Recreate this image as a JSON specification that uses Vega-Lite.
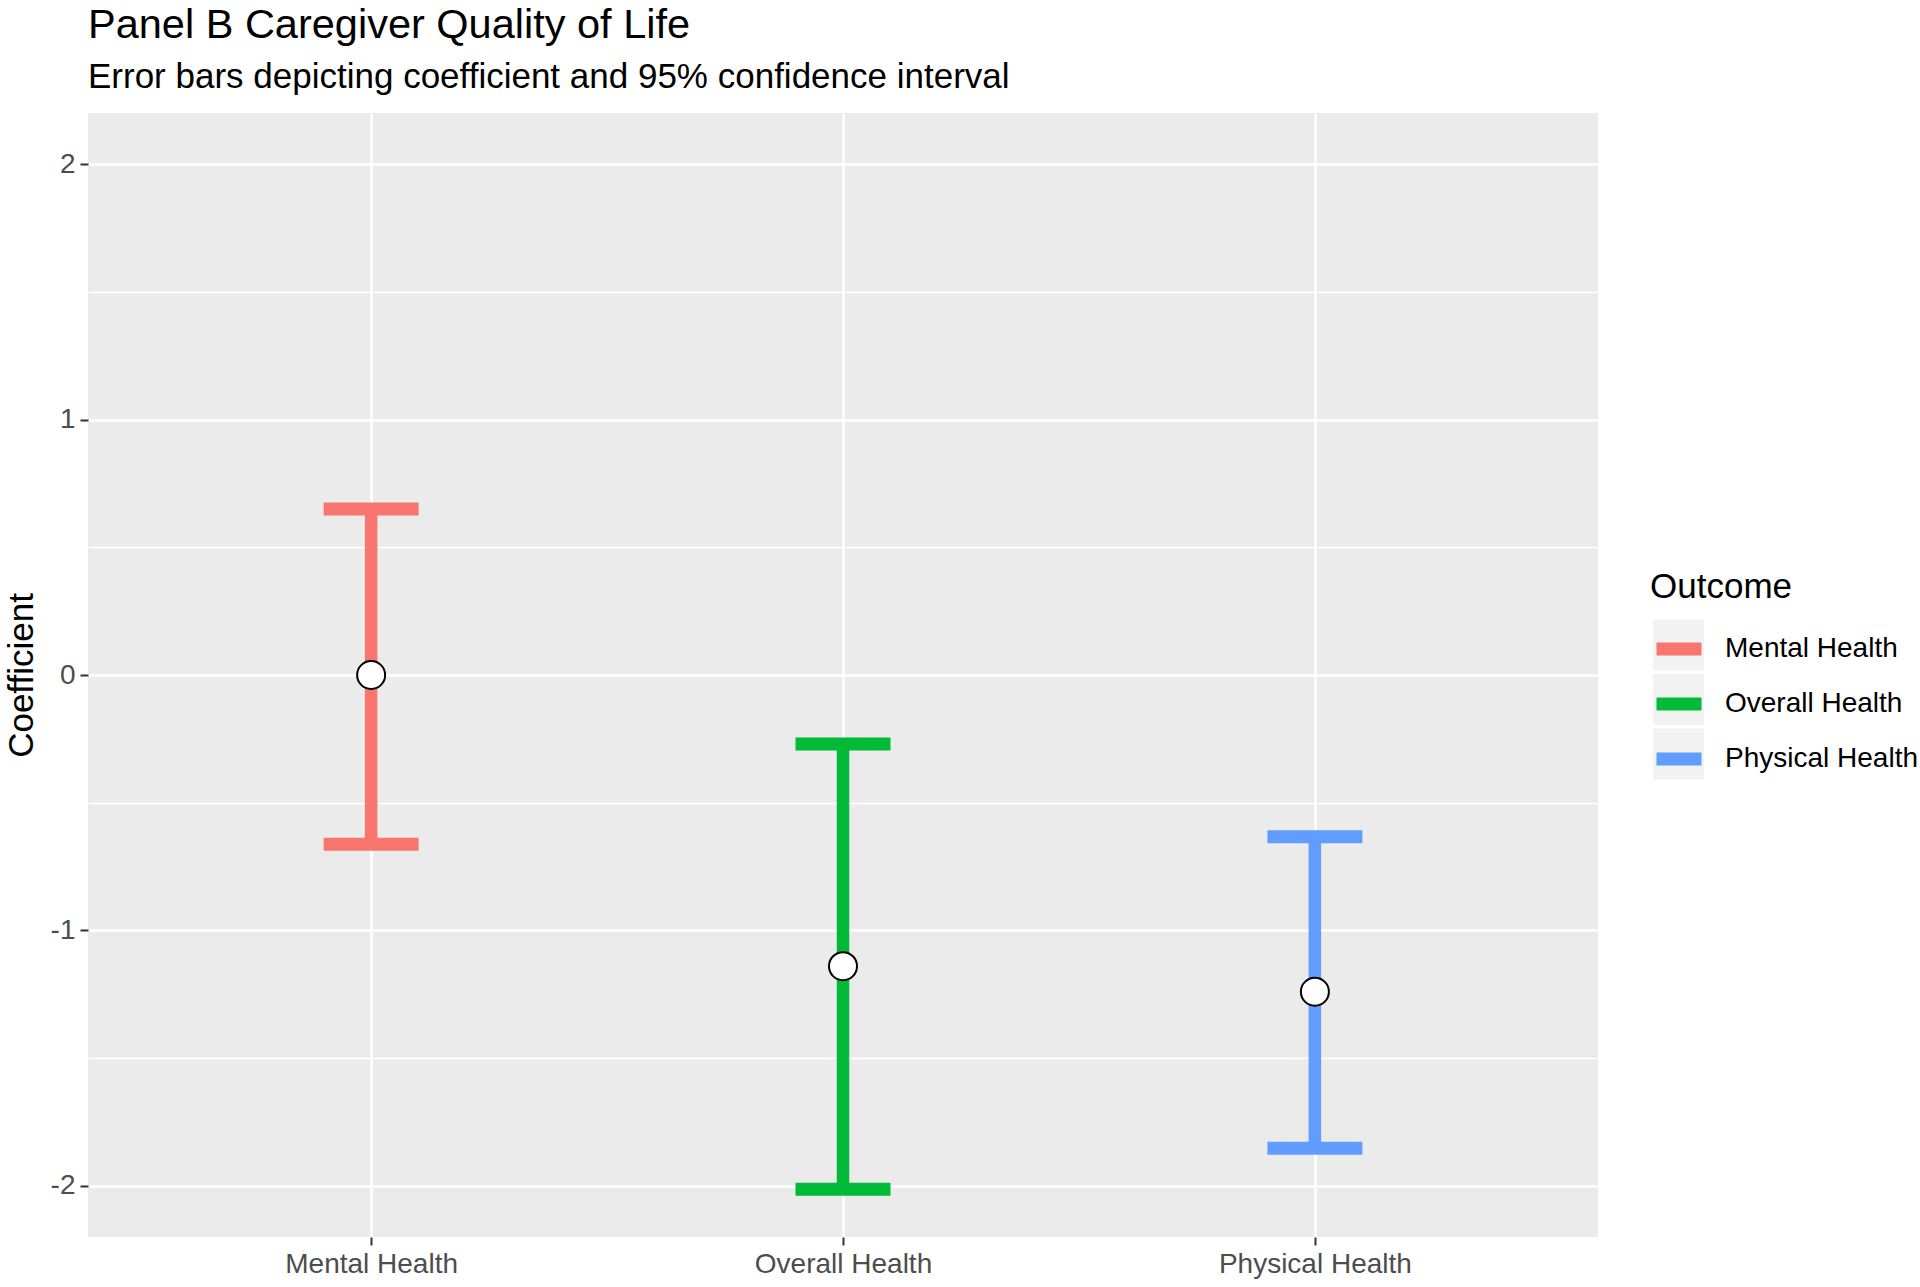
{
  "$schema": "https://vega.github.io/schema/vega-lite/v6.json",
  "autosize": "none",
  "width": 1510,
  "height": 1124,
  "padding": {"left": 88, "top": 113, "right": 322, "bottom": 50},
  "background": "white",
  "title": {
    "text": "Panel B Caregiver Quality of Life",
    "subtitle": "Error bars depicting coefficient and 95% confidence interval",
    "anchor": "start",
    "frame": "group",
    "font": "Liberation Sans",
    "fontSize": 41.5,
    "fontWeight": "normal",
    "color": "black",
    "subtitleFont": "Liberation Sans",
    "subtitleFontSize": 35,
    "subtitleColor": "black",
    "subtitlePadding": 13.5,
    "offset": 18.5
  },
  "data": {
    "values": [
      {"outcome": "Mental Health", "key": "Mental", "coef": 0.0, "lo": -0.663, "hi": 0.65},
      {"outcome": "Overall Health", "key": "Overall", "coef": -1.14, "lo": -2.013, "hi": -0.27},
      {"outcome": "Physical Health", "key": "Physical", "coef": -1.24, "lo": -1.853, "hi": -0.633}
    ]
  },
  "encoding": {
    "x": {
      "field": "outcome",
      "type": "nominal",
      "scale": {"type": "point", "padding": 0.6, "domain": ["Mental Health", "Overall Health", "Physical Health"]},
      "axis": {
        "title": null,
        "labelAngle": 0,
        "labelFont": "Liberation Sans",
        "labelFontSize": 28,
        "labelColor": "#4D4D4D",
        "labelPadding": 5,
        "labelLimit": 0,
        "tickColor": "#333333",
        "tickSize": 8,
        "tickWidth": 2,
        "domain": false,
        "grid": true,
        "gridColor": "white",
        "gridWidth": 2.7
      }
    }
  },
  "layer": [
    {
      "mark": {"type": "point", "shape": "square", "filled": true, "color": "#F2F2F2", "size": 4, "opacity": 1},
      "encoding": {
        "y": {"field": "coef", "type": "quantitative", "scale": {"domain": [-2.2, 2.2], "nice": false, "zero": false}},
        "shape": {
          "field": "key",
          "type": "nominal",
          "scale": {"domain": ["Mental", "Overall", "Physical"], "range": ["square", "square", "square"]},
          "legend": {
            "title": "Outcome",
            "titleOpacity": 0,
            "orient": "none",
            "legendX": 1565,
            "legendY": 456.5,
            "zindex": 1,
            "padding": 0,
            "titleFont": "Liberation Sans",
            "titleFontSize": 35,
            "titleFontWeight": "normal",
            "titlePadding": 15,
            "labelExpr": "''",
            "labelFont": "Liberation Sans",
            "labelFontSize": 28,
            "labelOffset": 0,
            "symbolType": "square",
            "symbolSize": 2601,
            "symbolFillColor": "#F2F2F2",
            "symbolStrokeWidth": 0,
            "symbolOpacity": 1,
            "rowPadding": 3.5
          }
        }
      }
    },
    {
      "mark": {"type": "rule", "strokeWidth": 12.5, "strokeCap": "butt"},
      "encoding": {
        "y": {
          "field": "lo",
          "type": "quantitative",
          "axis": {
            "title": "Coefficient",
            "titleFont": "Liberation Sans",
            "titleFontSize": 35,
            "titleFontWeight": "normal",
            "titleColor": "black",
            "titleX": -56,
            "titleY": 562,
            "titleAngle": 270,
            "titleAlign": "center",
            "titleBaseline": "alphabetic",
            "values": [-2, -1.5, -1, -0.5, 0, 0.5, 1, 1.5, 2],
            "labelExpr": "datum.value % 1 === 0 ? '' + datum.value : ''",
            "labelFont": "Liberation Sans",
            "labelFontSize": 28,
            "labelColor": "#4D4D4D",
            "labelPadding": 5,
            "tickColor": "#333333",
            "tickSize": 8,
            "tickWidth": 2,
            "tickOpacity": {"condition": {"test": "datum.value % 1 === 0", "value": 1}, "value": 0},
            "domain": false,
            "grid": true,
            "gridColor": "white",
            "gridWidth": {"condition": {"test": "datum.value % 1 === 0", "value": 2.7}, "value": 1.4}
          }
        },
        "y2": {"field": "hi"},
        "color": {
          "field": "outcome",
          "type": "nominal",
          "scale": {"domain": ["Mental Health", "Overall Health", "Physical Health"], "range": ["#F8766D", "#00BA38", "#619CFF"]},
          "legend": {
            "title": "Outcome",
            "orient": "none",
            "legendX": 1562,
            "legendY": 457,
            "zindex": 2,
            "padding": 0,
            "titleFont": "Liberation Sans",
            "titleFontSize": 35,
            "titleFontWeight": "normal",
            "titleColor": "black",
            "titlePadding": 15,
            "labelFont": "Liberation Sans",
            "labelFontSize": 28,
            "labelColor": "black",
            "labelOffset": 17,
            "labelLimit": 0,
            "symbolType": "stroke",
            "symbolSize": 2025,
            "symbolStrokeWidth": 13,
            "symbolOpacity": 1,
            "rowPadding": 0
          }
        }
      }
    },
    {
      "mark": {"type": "tick", "orient": "horizontal", "size": 95, "thickness": 13, "opacity": 1},
      "encoding": {"y": {"field": "lo", "type": "quantitative"}, "color": {"field": "outcome", "type": "nominal"}}
    },
    {
      "mark": {"type": "tick", "orient": "horizontal", "size": 95, "thickness": 13, "opacity": 1},
      "encoding": {"y": {"field": "hi", "type": "quantitative"}, "color": {"field": "outcome", "type": "nominal"}}
    },
    {
      "mark": {"type": "point", "shape": "circle", "filled": true, "fill": "white", "stroke": "black", "strokeWidth": 2, "size": 784, "opacity": 1},
      "encoding": {"y": {"field": "coef", "type": "quantitative"}}
    }
  ],
  "config": {
    "view": {"fill": "#EBEBEB", "stroke": null}
  }
}
